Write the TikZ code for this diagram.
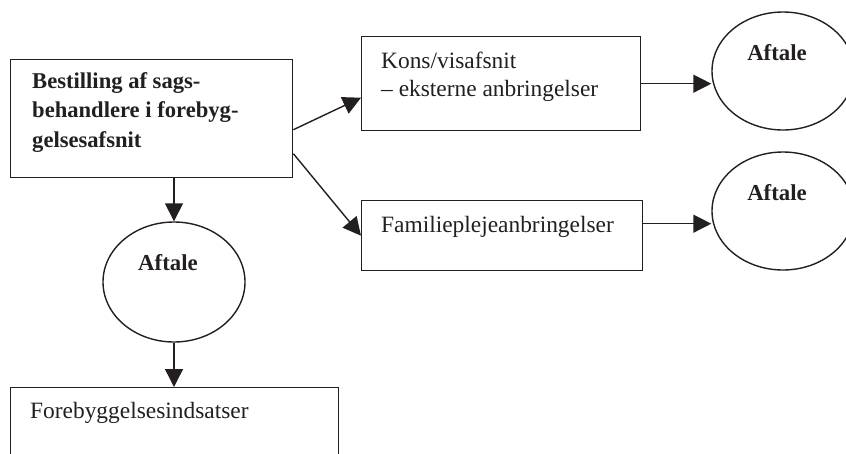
\documentclass[tikz,border=0pt]{standalone}
\usepackage{fontspec}
\setmainfont{Liberation Serif}
\usetikzlibrary{arrows.meta,shapes.geometric}
\definecolor{ink}{HTML}{231F20}
\begin{document}
\begin{tikzpicture}[x=1pt,y=-1pt,
  box/.style={draw=ink,line width=1.4pt,rectangle,inner sep=0pt,anchor=north west},
  oval/.style={draw=ink,line width=1.4pt,ellipse,inner sep=0pt,minimum width=142pt,minimum height=118pt},
  txt/.style={anchor=base west,inner sep=0pt,text=ink,font=\fontsize{23.4}{28}\selectfont},
  btxt/.style={anchor=base,inner sep=0pt,text=ink,font=\fontsize{22.8}{28}\selectfont\bfseries},
  conn/.style={draw=ink,line width=1.4pt,-{Triangle[length=18pt,width=18pt]}}]
\useasboundingbox (0,0) rectangle (846,453);
\clip (0,0) rectangle (846,453);
% boxes
\node[box,minimum width=282pt,minimum height=118pt] (main) at (10,59) {};
\node[box,minimum width=279pt,minimum height=94pt] (kons) at (361,36) {};
\node[box,minimum width=281pt,minimum height=70pt] (fam) at (361,200) {};
\node[box,minimum width=328pt,minimum height=100pt] (bot) at (10,387) {};
% ellipses
\node[oval] (e1) at (783,71) {};
\node[oval] (e2) at (783,211) {};
\node[oval,minimum height=120pt] (e3) at (174,282) {};
% texts
\node[txt,font=\fontsize{22.6}{29.5}\selectfont\bfseries,align=left,anchor=north west] (tmain) at (32,72)
  {Bestilling af sags-\\behandlere i forebyg-\\gelsesafsnit};
\node[txt] (tk1) at (381,68) {Kons/visafsnit};
\node[txt] (tk2) at (381,96) {– eksterne anbringelser};
\node[txt] (tf) at (381,232) {Familieplejeanbringelser};
\node[txt] (tb) at (30,418) {Forebyggelsesindsatser};
\node[btxt] (a1) at (777,60) {Aftale};
\node[btxt] (a2) at (777,200) {Aftale};
\node[btxt] (a3) at (168,270) {Aftale};
% connectors
\draw[conn] ([yshift=-11pt]main.east) -- ([yshift=-14pt]kons.west);
\draw[conn] ([yshift=-35pt]main.east) -- (fam.west);
\draw[conn] (kons.east) -- (kons.east -| e1.west);
\draw[conn] ([yshift=12pt]fam.east) -- ([yshift=12pt]fam.east -| e2.west);
\draw[conn] (e3.north |- main.south) -- (e3.north);
\draw[conn] (e3.south) -- (e3.south |- bot.north);
\end{tikzpicture}
\end{document}
